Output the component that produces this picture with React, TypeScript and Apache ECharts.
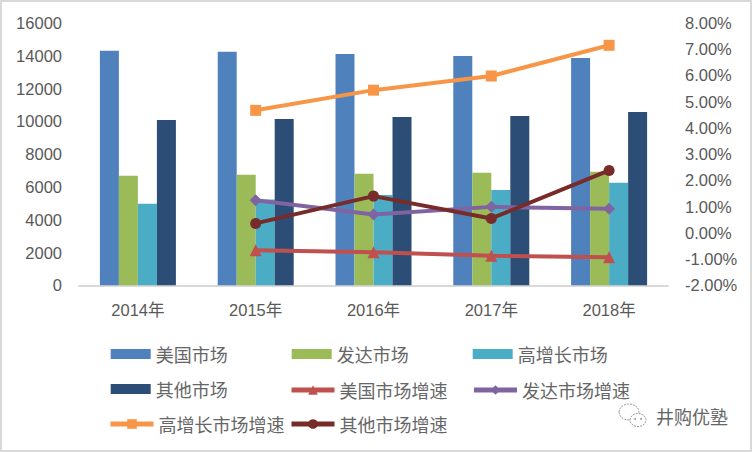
import React, { useEffect, useRef } from "react";
import * as echarts from "echarts";

const categories = ["2014年", "2015年", "2016年", "2017年", "2018年"];
const usMarket = [14300, 14240, 14110, 13990, 13870];
const devMarket = [6680, 6740, 6800, 6860, 6920];
const hgMarket = [4980, 5230, 5510, 5820, 6250];
const otherMarket = [10090, 10150, 10270, 10330, 10570];
const usGrowth = [null, -0.66, -0.74, -0.87, -0.93];
const devGrowth = [null, 1.24, 0.7, 0.99, 0.92];
const hgGrowth = [null, 4.67, 5.44, 5.98, 7.15];
const otherGrowth = [null, 0.36, 1.4, 0.55, 2.38];

const leftTicks = { min: 0, max: 16000, interval: 2000 };
const rightTicks = { min: -2, max: 8, interval: 1 };

const AXIS_FONT = "'Liberation Sans', 'Noto Sans CJK SC', sans-serif";
const CJK_FONT = "'Noto Sans CJK SC', sans-serif";
const TEXT_COLOR = "#595959";

export default function App() {
  const ref = useRef<HTMLDivElement>(null);
  useEffect(() => {
    if (!ref.current) return;
    const chart = echarts.init(ref.current, null, { renderer: "svg" });
    const legendText = { fontSize: 18, color: "#666", fontFamily: CJK_FONT, lineHeight: 20 };
    const barLegend = (name: string, left: number, top: number) => ({
      data: [name],
      left,
      top,
      padding: 0,
      itemWidth: 40,
      itemHeight: 10,
      icon: "rect",
      textStyle: legendText,
      selectedMode: false,
    });
    const lineLegend = (name: string, left: number, top: number) => ({
      data: [name],
      left,
      top,
      padding: 0,
      itemWidth: 43,
      itemHeight: 12,
      lineStyle: { width: 5 },
      textStyle: legendText,
      selectedMode: false,
    });
    const bar = (name: string, data: number[], color: string) => ({
      name,
      type: "bar",
      data,
      barWidth: 19,
      barGap: "0%",
      itemStyle: { color },
      yAxisIndex: 0,
    });
    const line = (name: string, data: (number | null)[], color: string, symbol: string, size: number) => ({
      name,
      type: "line",
      data,
      yAxisIndex: 1,
      symbol,
      symbolSize: size,
      showSymbol: true,
      lineStyle: { color, width: 4 },
      itemStyle: { color },
      connectNulls: false,
    });
    chart.setOption({
      animation: false,
      backgroundColor: "#ffffff",
      grid: { left: 79, right: 84, top: 23, bottom: 166.7, containLabel: false },
      xAxis: {
        type: "category",
        data: categories,
        axisLine: { lineStyle: { color: "#d9d9d9", width: 2 } },
        axisTick: { show: false },
        axisLabel: { color: TEXT_COLOR, fontSize: 16.5, fontFamily: AXIS_FONT, margin: 16 },
        splitLine: { show: false },
      },
      yAxis: [
        {
          type: "value",
          ...leftTicks,
          axisLine: { show: false },
          axisTick: { show: false },
          splitLine: { show: false },
          axisLabel: {
            color: TEXT_COLOR,
            fontSize: 16.5,
            fontFamily: AXIS_FONT,
            margin: 17,
            formatter: (v: number) => String(v),
          },
        },
        {
          type: "value",
          ...rightTicks,
          position: "right",
          axisLine: { show: false },
          axisTick: { show: false },
          splitLine: { show: false },
          axisLabel: {
            color: TEXT_COLOR,
            fontSize: 16.5,
            fontFamily: AXIS_FONT,
            margin: 17,
            formatter: (v: number) => `${v.toFixed(2)}%`,
          },
        },
      ],
      legend: [
        barLegend("美国市场", 110.7, 344),
        barLegend("发达市场", 291.7, 344),
        barLegend("高增长市场", 472.7, 344),
        barLegend("其他市场", 110.7, 379),
        lineLegend("美国市场增速", 289, 380),
        lineLegend("发达市场增速", 471.5, 380),
        lineLegend("高增长市场增速", 108, 414),
        lineLegend("其他市场增速", 289, 414),
      ],
      graphic: [
        {
          type: "rect",
          shape: { x: 1, y: 1, width: 750, height: 450 },
          style: { fill: "none", stroke: "#d9d9d9", lineWidth: 2 },
          silent: true,
        },
        {
          type: "ellipse",
          shape: { cx: 629, cy: 412, rx: 10, ry: 8 },
          style: { fill: "#fff", stroke: "#9a9a9a", lineWidth: 1, lineDash: [2, 1] },
        },
        {
          type: "ellipse",
          shape: { cx: 638, cy: 420, rx: 8, ry: 6.5 },
          style: { fill: "#fff", stroke: "#9a9a9a", lineWidth: 1, lineDash: [2, 1] },
        },
        { type: "circle", shape: { cx: 635, cy: 419, r: 1 }, style: { fill: "#9a9a9a" } },
        { type: "circle", shape: { cx: 641, cy: 419, r: 1 }, style: { fill: "#9a9a9a" } },
        {
          type: "text",
          x: 656,
          y: 416,
          style: {
            text: "井购优塾",
            fontSize: 18,
            fontFamily: CJK_FONT,
            fill: "#666",
            verticalAlign: "middle",
          },
        },
      ],
      series: [
        bar("美国市场", usMarket, "#4F81BD"),
        bar("发达市场", devMarket, "#9BBB59"),
        bar("高增长市场", hgMarket, "#4BACC6"),
        bar("其他市场", otherMarket, "#2C4D75"),
        line("美国市场增速", usGrowth, "#C0504D", "triangle", 12),
        line("发达市场增速", devGrowth, "#8064A2", "diamond", 12),
        line("高增长市场增速", hgGrowth, "#F79646", "rect", 11),
        line("其他市场增速", otherGrowth, "#772C2A", "circle", 11),
      ],
    });
    return () => chart.dispose();
  }, []);
  return (
    <div
      ref={ref}
      style={{ position: "fixed", left: 0, top: 0, width: 752, height: 452, background: "#fff" }}
    />
  );
}
